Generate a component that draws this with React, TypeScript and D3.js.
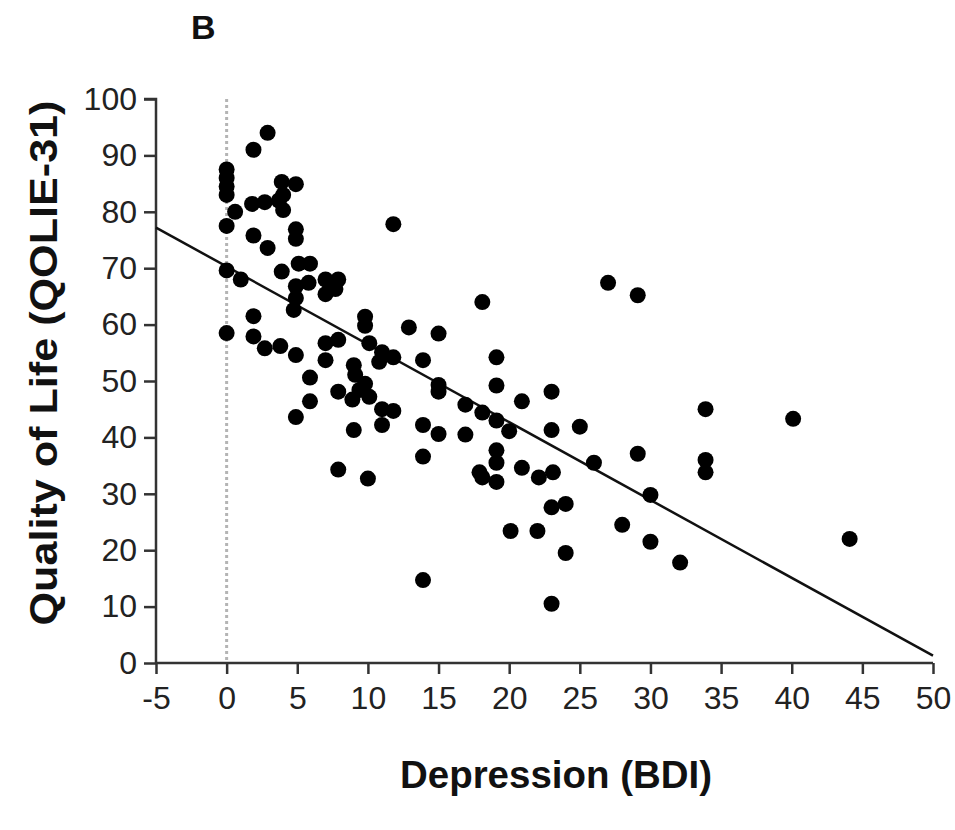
import { useEffect, useRef } from 'react';
import * as d3 from 'd3';

// BDI score (x) and QOLIE-31 score (y)
const bdi = [
  0, 0, 0, 0, 0, 0, 0,
  0.6, 1, 1.8, 1.9, 2.9, 2.7, 3.7, 4, 3.9, 4.9, 4,
  4.9, 4.9, 1.9, 2.9,
  3.9, 5.1, 5.9,
  4.9, 4.9, 4.75,
  5.8, 7, 7.5, 7.9, 7, 7.7,
  11.8,
  1.9, 1.9, 2.7, 3.8, 4.9,
  9.8, 9.8, 10.1,
  12.9, 15,
  7, 7.9, 7,
  11, 11.8, 10.8, 13.9,
  9, 9.1, 9.8, 10.1, 8.9, 7.9, 9.4,
  15, 15,
  5.9, 5.9, 4.9,
  11, 11.8, 11, 9,
  13.9, 15, 13.9,
  7.9, 10, 13.9,
  27, 29.1, 18.1, 19.1, 19.1,
  16.9, 18.1, 19.1, 20, 20.9, 23, 23, 25,
  16.9, 19.1, 19.1, 17.9, 18.1, 19.1,
  20.9, 22.1, 23.1,
  23, 24, 26, 29.1, 30,
  20.1, 22, 28, 30, 24, 32.1, 23,
  33.9, 40.1, 33.9, 33.9, 44.1,
];
const qolie = [
  87.5, 86, 84.5, 83, 77.5, 69.6, 58.5,
  80, 68, 81.4, 91, 94, 81.7, 82, 80.3, 85.3, 84.9, 83,
  76.9, 75.2, 75.8, 73.6,
  69.4, 70.8, 70.8,
  66.8, 64.7, 62.6,
  67.4, 68, 66.8, 68, 65.4, 66.3,
  77.8,
  61.5, 57.9, 55.8, 56.2, 54.6,
  61.4, 59.8, 56.7,
  59.5, 58.4,
  56.7, 57.3, 53.7,
  55.1, 54.2, 53.4, 53.7,
  52.8, 51.1, 49.5, 47.2, 46.7, 48.1, 48.4,
  49.3, 48.1,
  50.6, 46.4, 43.6,
  45, 44.7, 42.2, 41.3,
  42.2, 40.6, 36.6,
  34.3, 32.7, 14.7,
  67.4, 65.2, 64, 54.2, 49.2,
  45.8, 44.4, 43, 41.1, 46.4, 48.1, 41.3, 41.9,
  40.5, 37.7, 35.5, 33.8, 32.9, 32.1,
  34.6, 32.9, 33.8,
  27.6, 28.2, 35.5, 37.1, 29.8,
  23.4, 23.4, 24.5, 21.5, 19.5, 17.8, 10.5,
  45, 43.3, 36, 33.8, 22,
];

const xTicks = [-5, 0, 5, 10, 15, 20, 25, 30, 35, 40, 45, 50];
const yTicks = [0, 10, 20, 30, 40, 50, 60, 70, 80, 90, 100];

// fitted regression line
const fitIntercept = 70.3;
const fitSlope = -1.38;

const W = 955;
const H = 830;

export default function App() {
  const ref = useRef<SVGSVGElement>(null);

  useEffect(() => {
    const svg = d3.select(ref.current);
    svg.selectAll('*').remove();

    const x = d3.scaleLinear().domain([-5, 50]).range([156, 933]);
    const y = d3.scaleLinear().domain([0, 100]).range([663, 99]);
    const font = '"Liberation Sans", Arial, sans-serif';

    // panel letter
    svg.append('text').attr('x', 191).attr('y', 39)
      .style('font-family', font).style('font-size', '34px').style('font-weight', 'bold')
      .style('fill', '#111').text('B');

    // dotted reference line at BDI = 0
    svg.append('line')
      .attr('x1', x(0)).attr('x2', x(0)).attr('y1', y(100)).attr('y2', y(0))
      .style('stroke', '#b4b4b4').style('stroke-width', 3).style('stroke-dasharray', '3,3');

    // axes
    const xAxis = svg.append('g').attr('transform', `translate(0,${y(0)})`)
      .call(d3.axisBottom(x).tickValues(xTicks).tickSize(11).tickPadding(12).tickFormat(d => String(d)));
    const yAxis = svg.append('g').attr('transform', `translate(${x(-5)},0)`)
      .call(d3.axisLeft(y).tickValues(yTicks).tickSize(12).tickPadding(7).tickFormat(d => String(d)));

    [xAxis, yAxis].forEach(ax => {
      ax.select('.domain').style('stroke', '#333').style('stroke-width', 2.5);
      ax.selectAll('.tick line').style('stroke', '#333').style('stroke-width', 2.5);
      ax.selectAll('.tick text').style('font-family', font).style('font-size', '32px').style('fill', '#222');
    });
    yAxis.select('.domain').attr('d', `M-12,${y(100)}H0V${y(0)}`);
    xAxis.select('.domain').attr('d', `M${x(-5)},0H${x(50)}`);

    // axis titles
    svg.append('text').attr('x', 556).attr('y', 788).attr('text-anchor', 'middle')
      .attr('textLength', 312).attr('lengthAdjust', 'spacingAndGlyphs')
      .style('font-family', font).style('font-size', '38px').style('font-weight', 'bold')
      .style('fill', '#111').text('Depression (BDI)');
    svg.append('text').attr('transform', 'translate(57,363) rotate(-90)').attr('text-anchor', 'middle')
      .attr('textLength', 525).attr('lengthAdjust', 'spacingAndGlyphs')
      .style('font-family', font).style('font-size', '38px').style('font-weight', 'bold')
      .style('fill', '#111').text('Quality of Life (QOLIE-31)');

    // regression line
    const line = d3.line<number>().x(d => x(d)).y(d => y(fitIntercept + fitSlope * d));
    svg.append('path').datum([-5, 50]).attr('d', line)
      .style('fill', 'none').style('stroke', '#111').style('stroke-width', 2.5);

    // points
    svg.append('g').selectAll('circle').data(d3.range(bdi.length)).join('circle')
      .attr('cx', i => x(bdi[i])).attr('cy', i => y(qolie[i])).attr('r', 8)
      .style('fill', '#000');
  }, []);

  return (
    <svg ref={ref} width={W} height={H}
      style={{ position: 'absolute', left: 0, top: 0, background: '#fff' }} />
  );
}
